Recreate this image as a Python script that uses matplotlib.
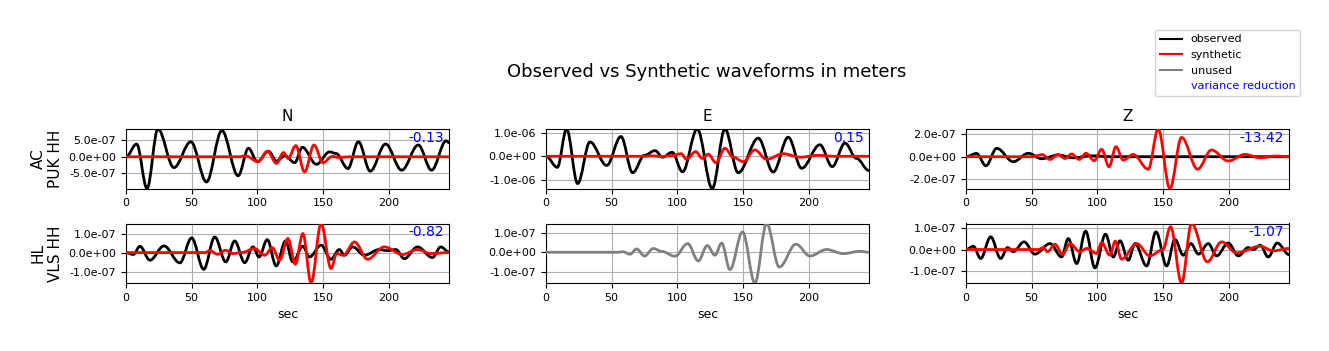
import matplotlib
matplotlib.use("Agg")
import matplotlib.pyplot as plt
from matplotlib.path import Path
from matplotlib.patches import PathPatch
from matplotlib.lines import Line2D
from matplotlib.ticker import FormatStrFormatter

# ---------------- data (times in s, amplitudes in units of 1e-7 m; extrema) ----
AMP_UNIT = 1e-7
components = ["N", "E", "Z"]
stations = ["AC\nPUK HH", "HL\nVLS HH"]
variance_reduction = [[-0.13, 0.15, -13.42], [-0.82, None, -1.07]]
x_ticks = [0, 50, 100, 150, 200]
x_max = 246
y_ticks = [[-5.0, 0.0, 5.0], [-10.0, 0.0, 10.0], [-2.0, 0.0, 2.0],
           [-1.0, 0.0, 1.0], [-1.0, 0.0, 1.0], [-1.0, 0.0, 1.0]]

# AC PUK HH - N
puk_n_obs_t = [0, 8.1, 16, 24.3, 36.5, 49.4, 61.3, 73, 85.4, 93.3, 100, 108.5, 114.6, 121,
               128.5, 134.3, 145, 155, 160, 169, 177, 186, 197.7, 210, 222.6, 232.7, 243.9, 246]
puk_n_obs_a = [0, 3.9, -9.7, 8.5, -3.3, 4.6, -7.7, 8.0, -5.8, 2.6, -1.5, 1.7, -1.3, 0.3,
               -1.8, 2.9, -2.3, 1.5, 1.0, -3.6, 4.6, -4.4, 3.9, -4.1, 3.6, -4.1, 4.9, 4.3]
puk_n_syn_t = [0, 86, 91, 100.6, 107.7, 114.6, 120, 123.5, 129.3, 136, 143.2, 150, 157, 162, 170, 246]
puk_n_syn_a = [0, 0, 0.3, -1.5, 1.7, -2.0, 1.3, -0.5, 3.4, -4.6, 3.6, -1.8, 0.1, -0.2, 0, 0]

# AC PUK HH - E
puk_e_obs_t = [0, 8.6, 15.7, 24.1, 33.5, 46.2, 57.1, 66, 75, 83, 88.8, 96, 104, 115.2, 126.6,
               136.3, 146.4, 161.7, 173, 184.5, 194.7, 208.6, 218, 227.7, 236.5, 246]
puk_e_obs_a = [0, -4.7, 11.6, -11.6, 6.1, -3.9, 8.4, -7.0, 0.4, 2.4, -0.4, 1.7, -6.6, 11.6, -13.7,
               11.6, -7.0, 7.7, -6.7, 8.1, -5.1, 4.9, -4.4, 5.6, -0.9, -6.1]
puk_e_syn_t = [0, 76, 80, 88, 96, 103, 107, 114, 119, 123.6, 129.4, 136.3, 142.6, 150.3, 159,
               168, 180.7, 193.4, 207, 220, 246]
puk_e_syn_a = [0, 0, 0.2, -0.1, 0.3, 1.1, -1.3, 2.0, -0.9, 0.9, -2.7, 3.4, -0.4, -2.3, 2.7,
               -1.3, 1.1, -0.4, 0.4, 0, 0]

# AC PUK HH - Z
puk_z_obs_t = [0, 8, 15.2, 23.4, 36, 47.5, 57.6, 70, 82, 95, 110, 246]
puk_z_obs_a = [0, 0.29, -0.8, 0.74, -0.44, 0.3, -0.18, 0.15, -0.1, 0.08, 0, 0]
puk_z_syn_t = [0, 50, 58, 64, 70, 75.4, 80.5, 86.3, 91.4, 97.7, 103.3, 109, 114.2, 119.8, 127.4,
               138.8, 146.4, 155.3, 164.2, 176.4, 187, 199.7, 212.4, 224, 236.5, 246]
puk_z_syn_a = [0, 0, 0.18, -0.24, 0.2, -0.15, 0.24, -0.24, 0.3, -0.35, 0.65, -0.88, 0.88, -0.3, 0.2,
               -1.1, 2.44, -2.8, 1.7, -1.1, 0.59, -0.38, 0.2, -0.09, 0.06, 0]

# HL VLS HH - N
vls_n_obs_t = [0, 5.6, 10.6, 18.2, 28.9, 41, 50, 59.2, 67.6, 76, 82.8, 90.4, 96.7, 101.3, 107.6,
               114.4, 121.5, 127, 134.7, 139.7, 148.6, 156, 162.5, 166.3, 172.7, 181.5, 192.9, 199,
               205.6, 211.9, 222, 233.4, 239.7, 246]
vls_n_obs_a = [0, -0.1, 0.33, -0.4, 0.35, -0.54, 0.77, -0.88, 0.82, -0.49, 0.61, -0.53, 0.3, -0.23, 0.68,
               -0.7, 0.61, -0.49, 0.33, -0.23, 0.39, -0.35, 0.16, -0.14, 0.3, -0.14, 0.16, 0.1,
               0.16, -0.32, 0.3, -0.26, 0.3, 0.03]
vls_n_syn_t = [0, 60, 63.8, 70, 75.7, 81.5, 88, 98, 105.6, 111.4, 117, 123.3, 129, 134.7, 141,
               148.6, 156.2, 160.5, 165.5, 174, 184, 196.7, 210.6, 222, 232, 246]
vls_n_syn_a = [0, 0, 0.1, -0.09, 0.12, -0.05, 0, 0.21, -0.14, 0.26, -0.4, 0.74, -0.61, 1.0, -1.6,
               1.53, -0.84, -0.05, -0.14, 0.56, -0.35, 0.3, -0.1, 0.16, -0.05, 0]

# HL VLS HH - E (unused)
vls_e_unused_t = [0, 55, 58.4, 64, 69, 75, 81.7, 88, 98.2, 107.9, 116, 122.8, 128.7, 133.8, 140.1,
                  149.7, 159.1, 168, 177.7, 190.4, 201, 213.7, 226.4, 239, 246]
vls_e_unused_a = [0, 0, 0.03, -0.1, 0.17, -0.19, 0.19, 0.05, -0.2, 0.44, -0.44, 0.34, -0.15, 0.47, -0.88,
                  1.03, -1.56, 1.46, -0.75, 0.41, -0.19, 0.14, -0.07, 0.05, 0]

# HL VLS HH - Z
vls_z_obs_t = [0, 5.6, 11.2, 18.8, 26.4, 31.7, 36, 44.2, 52.5, 64, 72.8, 77.9, 84.3, 91.1, 98.2,
               106.3, 112.2, 117.3, 123.6, 128.7, 137.6, 144.7, 152.8, 159.1, 165.5, 171.3, 177,
               184.5, 190.9, 199.7, 207.4, 215, 219, 224, 230.2, 237, 246]
vls_z_obs_a = [0, 0.15, -0.41, 0.58, -0.41, 0.09, -0.1, 0.35, -0.21, 0.27, -0.34, 0.5, -0.64, 0.84, -0.84,
               0.7, -0.34, 0.4, -0.49, 0.27, -0.75, 0.81, -0.75, 0.46, -0.26, 0.27, -0.21,
               0.27, -0.29, 0.3, -0.29, 0.09, 0.0, 0.2, -0.34, 0.3, -0.23]
vls_z_syn_t = [0, 55, 59, 62, 67.8, 73.6, 79.2, 86.8, 92, 99.5, 103.3, 109.6, 113.7, 118.5, 130,
               140, 150, 155.8, 164.2, 171.8, 183.8, 194.7, 206, 224, 234, 246]
vls_z_syn_a = [0, 0, 0.09, -0.1, 0.24, -0.23, 0.27, -0.1, 0.05, -0.18, 0.32, -0.26, 0.38, -0.44, 0.27,
               -0.29, 0, 1.04, -1.53, 1.19, -0.56, 0.35, -0.15, 0.15, -0.06, 0.05]

# (observed, synthetic, unused) per panel, row-major
panels = [
    [(puk_n_obs_t, puk_n_obs_a), (puk_n_syn_t, puk_n_syn_a), None],
    [(puk_e_obs_t, puk_e_obs_a), (puk_e_syn_t, puk_e_syn_a), None],
    [(puk_z_obs_t, puk_z_obs_a), (puk_z_syn_t, puk_z_syn_a), None],
    [(vls_n_obs_t, vls_n_obs_a), (vls_n_syn_t, vls_n_syn_a), None],
    [None, None, (vls_e_unused_t, vls_e_unused_a)],
    [(vls_z_obs_t, vls_z_obs_a), (vls_z_syn_t, vls_z_syn_a), None],
]

# ---------------- drawing ----------------
K = 0.36  # bezier handle fraction -> smooth waveform through extrema


def draw_wave(ax, t, a, color, z):
    a = [v * AMP_UNIT for v in a]
    verts = [(t[0], a[0])]
    codes = [Path.MOVETO]
    for i in range(len(t) - 1):
        dt = t[i + 1] - t[i]
        verts += [(t[i] + K * dt, a[i]), (t[i + 1] - K * dt, a[i + 1]), (t[i + 1], a[i + 1])]
        codes += [Path.CURVE4] * 3
    ax.add_patch(PathPatch(Path(verts, codes), fill=False, edgecolor=color, lw=2,
                           zorder=z, joinstyle="round", capstyle="round"))
    return min(a), max(a)


W, H = 1329, 351
fig, axes = plt.subplots(2, 3, figsize=(W / 100, H / 100), dpi=100)
fig.subplots_adjust(left=126 / W, right=1289 / W, bottom=1 - 283 / H, top=1 - 129 / H,
                    wspace=97 / 323, hspace=35 / 59.5)

colors = ["black", "red", "grey"]
for idx, ax in enumerate(axes.flat):
    r, c = divmod(idx, 3)
    lo, hi = 0, 0
    for k, series in enumerate(panels[idx]):
        if series is None:
            continue
        mn, mx = draw_wave(ax, series[0], series[1], colors[k], 2 + k)
        lo, hi = min(lo, mn), max(hi, mx)
    ax.set_xlim(0, x_max)
    ax.set_ylim(lo, hi)
    ax.set_xticks(x_ticks)
    ax.set_yticks([v * AMP_UNIT for v in y_ticks[idx]])
    ax.yaxis.set_major_formatter(FormatStrFormatter("%.1e"))
    ax.tick_params(labelsize=8)
    ax.grid(True)
    ax.set_axisbelow(True)
    if r == 0:
        ax.set_title(components[c], fontsize=11)
    if r == 1:
        ax.set_xlabel("sec", fontsize=9)
    if c == 0:
        ax.set_ylabel(stations[r], fontsize=11)
    vr = variance_reduction[r][c]
    if vr is not None:
        ax.text(0.985, 0.85, "%.2f" % vr, transform=ax.transAxes, ha="right", va="center",
                color="blue", fontsize=10)

fig.text(707 / W, 1 - 72 / H, "Observed vs Synthetic waveforms in meters", ha="center",
         va="center", fontsize=13)

handles = [Line2D([], [], color="black", lw=1.5),
           Line2D([], [], color="red", lw=1.5),
           Line2D([], [], color="grey", lw=1.5),
           Line2D([], [], color="none", lw=1.5)]
labels = ["observed", "synthetic", "unused", "variance reduction"]
leg = fig.legend(handles, labels, loc="upper right", bbox_to_anchor=(1300 / W, 1 - 30 / H),
                 borderaxespad=0, fontsize=8)
leg.get_texts()[3].set_color("blue")

fig.savefig("out.png", dpi=100)
